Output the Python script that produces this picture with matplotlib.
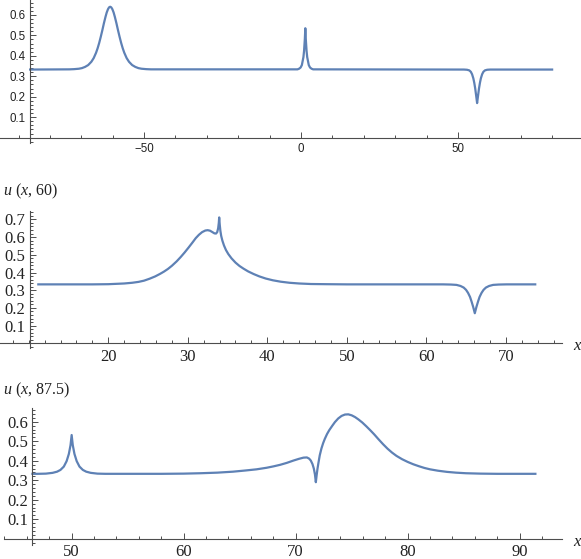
import matplotlib
matplotlib.use("Agg")
import matplotlib.pyplot as plt
from matplotlib.ticker import MultipleLocator, FixedLocator

plt.rcParams["mathtext.fontset"] = "custom"
plt.rcParams["mathtext.rm"] = "Liberation Serif"
plt.rcParams["mathtext.it"] = "Liberation Serif:italic"

LINE = "#5e81b5"
AXIS = "#4d4d4d"
TEXT = "#222222"

# ---------- data ----------

# top panel: soliton near -61, peakon near 1.4, antipeakon near 56
x1 = [-86.3, -73.8, -72.3, -70.8, -69.8, -68.8, -67.8, -66.8, -66.05, -65.3,
      -64.8, -64.3, -63.8, -63.3, -62.8, -62.3, -61.9, -61.5, -61.15, -60.8,
      -60.45, -60.1, -59.7, -59.3, -58.8, -58.3, -57.8, -57.3, -56.8, -56.3,
      -55.55, -54.8, -53.8, -52.8, -51.8, -50.8, -49.3, -47.8,
      -1.13, -0.63, -0.13, 0.27, 0.77, 0.97, 1.22, 1.37, 1.52, 1.77, 1.97,
      2.47, 2.87, 3.37, 3.87,
      51.9, 52.9, 53.6, 54.1, 54.5, 54.9, 55.2, 55.5, 55.8, 56.1,
      56.4, 56.7, 57.0, 57.3, 57.7, 58.1, 58.6, 59.3, 60.3, 80.0]
u1 = [0.333, 0.334, 0.335, 0.337, 0.340, 0.346, 0.355, 0.371, 0.389, 0.415,
      0.437, 0.463, 0.493, 0.525, 0.559, 0.590, 0.612, 0.628, 0.637, 0.640,
      0.637, 0.628, 0.612, 0.590, 0.559, 0.525, 0.493, 0.463, 0.437, 0.415,
      0.389, 0.371, 0.355, 0.346, 0.340, 0.337, 0.335, 0.334,
      0.334, 0.337, 0.343, 0.355, 0.394, 0.424, 0.483, 0.535, 0.483, 0.424, 0.394,
      0.355, 0.343, 0.337, 0.334,
      0.333, 0.332, 0.329, 0.322, 0.310, 0.290, 0.268, 0.240, 0.205, 0.169,
      0.205, 0.240, 0.268, 0.290, 0.310, 0.322, 0.329, 0.332, 0.333, 0.333]

# u(x, 60)
x2 = [11.2, 18.0, 20.0, 21.0, 22.0, 23.0, 23.8, 24.5, 25.2, 25.9,
      26.5, 27.0, 27.5, 28.0, 28.6, 29.1, 29.6, 30.1, 30.6, 31.0,
      31.4, 31.8, 32.2, 32.5, 32.8, 33.1, 33.35, 33.55, 33.7, 33.82,
      33.9, 33.95, 34.02, 34.1, 34.2, 34.35, 34.55, 34.8, 35.1, 35.5,
      36.0, 36.5, 37.0, 37.6, 38.3, 39.0, 39.8, 40.7, 41.7, 42.8,
      44.0, 45.5, 47.5, 50.0,
      62.1, 63.1, 63.8, 64.3, 64.7, 65.0, 65.25, 65.5, 65.7, 65.9, 66.1,
      66.3, 66.5, 66.7, 66.95, 67.2, 67.5, 67.9, 68.4, 69.1, 70.1, 73.7]
u2 = [0.333, 0.333, 0.334, 0.336, 0.338, 0.342, 0.347, 0.354, 0.365, 0.378,
      0.392, 0.405, 0.420, 0.438, 0.463, 0.487, 0.513, 0.541, 0.570, 0.594,
      0.613, 0.628, 0.637, 0.639, 0.636, 0.628, 0.621, 0.620, 0.628, 0.650,
      0.680, 0.711, 0.670, 0.635, 0.607, 0.580, 0.553, 0.527, 0.504, 0.480,
      0.456, 0.437, 0.422, 0.406, 0.391, 0.378, 0.366, 0.356, 0.348, 0.342,
      0.338, 0.335, 0.334, 0.333,
      0.333, 0.332, 0.330, 0.324, 0.315, 0.302, 0.285, 0.262, 0.235, 0.205, 0.170,
      0.205, 0.235, 0.262, 0.285, 0.302, 0.315, 0.324, 0.330, 0.332, 0.333, 0.333]

# u(x, 87.5)
x3 = [46.5, 47.0, 47.7, 48.3, 48.7, 49.0, 49.3, 49.55, 49.75, 49.9,
      50.0, 50.1, 50.25, 50.45, 50.7, 51.0, 51.3, 51.7, 52.3, 53.0,
      58.0, 60.0, 61.5, 63.0, 64.4, 65.5, 66.5, 67.4, 68.0, 68.6,
      69.2, 69.8, 70.3, 70.7, 71.0, 71.2, 71.35, 71.5, 71.62, 71.72,
      71.8, 71.87, 71.95, 72.05, 72.15, 72.3, 72.45, 72.6, 72.8, 73.0,
      73.25, 73.5, 73.8, 74.1, 74.4, 74.7, 75.0, 75.3, 75.6, 75.95,
      76.3, 76.65, 77.0, 77.4, 77.8, 78.2, 78.6, 79.0, 79.5, 80.0,
      80.5, 81.0, 81.5, 82.0, 82.7, 83.5, 84.3, 85.2, 86.5, 88.0, 91.4]
u3 = [0.333, 0.333, 0.334, 0.338, 0.344, 0.353, 0.370, 0.398, 0.435, 0.480,
      0.532, 0.480, 0.435, 0.398, 0.370, 0.353, 0.344, 0.338, 0.334, 0.333,
      0.333, 0.334, 0.336, 0.339, 0.344, 0.350, 0.356, 0.364, 0.371, 0.379,
      0.389, 0.401, 0.410, 0.416, 0.417, 0.411, 0.401, 0.383, 0.360, 0.330,
      0.290, 0.325, 0.360, 0.395, 0.428, 0.463, 0.490, 0.512, 0.537, 0.557,
      0.578, 0.598, 0.617, 0.630, 0.637, 0.638, 0.633, 0.624, 0.612, 0.596,
      0.577, 0.557, 0.536, 0.510, 0.485, 0.462, 0.442, 0.425, 0.408, 0.394,
      0.382, 0.372, 0.363, 0.356, 0.349, 0.343, 0.339, 0.336, 0.334, 0.333, 0.333]

W, H = 581, 559


def add_panel(fig, px_box, xlim, ylim, y_axis_at, family, size,
              xmajor, xminor, ymajor):
    """Mathematica-like axes: y axis at a given x, x axis at u = 0."""
    left, top, right, bottom = px_box
    ax = fig.add_axes([left / W, 1 - bottom / H, (right - left) / W, (bottom - top) / H])
    ax.set_xlim(*xlim)
    ax.set_ylim(*ylim)
    for s in ("top", "right"):
        ax.spines[s].set_visible(False)
    ax.spines["left"].set_position(("data", y_axis_at))
    ax.spines["bottom"].set_position(("data", 0))
    for s in ("left", "bottom"):
        ax.spines[s].set_color(AXIS)
        ax.spines[s].set_linewidth(0.8)
    ax.patch.set_visible(False)

    ax.xaxis.set_major_locator(FixedLocator(xmajor))
    ax.xaxis.set_minor_locator(MultipleLocator(xminor))
    ax.yaxis.set_major_locator(FixedLocator(ymajor))
    ax.yaxis.set_minor_locator(MultipleLocator(0.02))
    ax.tick_params(which="both", direction="in", color=AXIS, width=0.7)
    ax.tick_params(which="major", length=4)
    ax.tick_params(which="minor", length=2.2)
    ax.tick_params(axis="x", pad=4, labelcolor=TEXT)
    ax.tick_params(axis="y", pad=3, labelcolor=TEXT)
    ax.set_xticklabels([f"{v:g}".replace("-", "\u2212") for v in xmajor],
                       family=family, size=size)
    ax.set_yticklabels([f"{v:g}" for v in ymajor], family=family, size=size)
    return ax


fig = plt.figure(figsize=(W / 100, H / 100), dpi=100)

ax1 = add_panel(fig, (0, 0, 581, 143), (-95.9, 89.2), (-0.026, 0.673), -86.3,
                "Liberation Sans", 8.3, [-50, 0, 50], 10,
                [0.1, 0.2, 0.3, 0.4, 0.5, 0.6])
ax1.plot(x1, u1, color=LINE, lw=1.6, solid_joinstyle="round")

ax2 = add_panel(fig, (0, 210.7, 561.7, 348.3), (6.38, 77.03), (-0.028, 0.749), 10.1,
                "Liberation Serif", 12, [20, 30, 40, 50, 60, 70], 2,
                [0.1, 0.2, 0.3, 0.4, 0.5, 0.6, 0.7])
ax2.plot(x2, u2, color=LINE, lw=1.6, solid_joinstyle="round")

ax3 = add_panel(fig, (4, 408.3, 561.7, 545), (43.96, 93.75), (-0.032, 0.669), 46.48,
                "Liberation Serif", 12, [50, 60, 70, 80, 90], 2,
                [0.1, 0.2, 0.3, 0.4, 0.5, 0.6])
ax3.plot(x3, u3, color=LINE, lw=1.6, solid_joinstyle="round")

# axis labels as in the notebook output
fig.text(3 / W, 1 - 191 / H, r"$u$ ($x$, 60)", family="Liberation Serif",
         size=11.5, color=TEXT, va="center", ha="left")
fig.text(3 / W, 1 - 390 / H, r"$u$ ($x$, 87.5)", family="Liberation Serif",
         size=11.5, color=TEXT, va="center", ha="left")
fig.text(573 / W, 1 - 345 / H, r"$x$", size=12, color=TEXT, va="center", ha="left")
fig.text(573 / W, 1 - 541 / H, r"$x$", size=12, color=TEXT, va="center", ha="left")

fig.savefig("out.png", dpi=100)
